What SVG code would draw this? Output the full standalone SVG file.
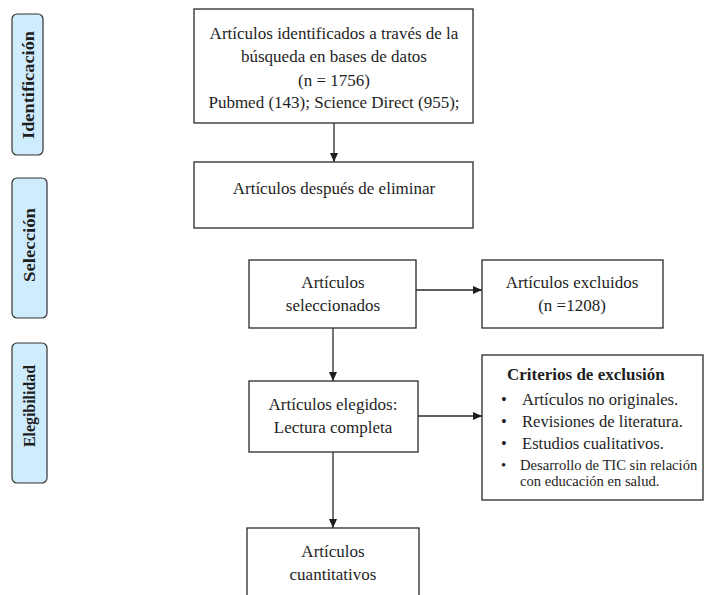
<svg xmlns="http://www.w3.org/2000/svg" width="704" height="595" viewBox="0 0 704 595">
<style>
text{font-family:"Liberation Serif","Times New Roman",serif;fill:#1e1e1e}
.box{fill:#fff;stroke:#2a2a2a;stroke-width:1.3}
.side{fill:#cfecfc;stroke:#333;stroke-width:1.2}
.st{font-weight:bold;font-size:17px;text-anchor:middle}
.t{font-size:17px;text-anchor:middle}
.b{font-size:16.6px}
.s{font-size:14.6px}
.ln{stroke:#2a2a2a;stroke-width:1.3;fill:none}
</style>
<defs>
<marker id="ah" markerWidth="10" markerHeight="10" refX="9" refY="5" orient="auto" markerUnits="userSpaceOnUse">
<path d="M0,1 L9,5 L0,9 Z" fill="#1e1e1e"/>
</marker>
</defs>
<rect width="704" height="595" fill="#fff"/>
<g id="side-identificacion"><rect class="side" x="12" y="14" width="31" height="141" rx="5"/><text class="st" transform="translate(34,85) rotate(-90)" textLength="108" lengthAdjust="spacingAndGlyphs">Identificación</text></g>
<g id="side-seleccion"><rect class="side" x="12" y="178" width="35" height="140" rx="5"/><text class="st" transform="translate(35,245) rotate(-90)" textLength="74" lengthAdjust="spacingAndGlyphs">Selección</text></g>
<g id="side-elegibilidad"><rect class="side" x="12" y="343" width="35" height="140" rx="5"/><text class="st" transform="translate(35,406) rotate(-90)" textLength="82" lengthAdjust="spacingAndGlyphs">Elegibilidad</text></g>

<g id="connectors">
<line class="ln" x1="334" y1="123" x2="334" y2="162" marker-end="url(#ah)"/>
<line class="ln" x1="416" y1="290" x2="482" y2="290" marker-end="url(#ah)"/>
<line class="ln" x1="333" y1="328" x2="333" y2="381" marker-end="url(#ah)"/>
<line class="ln" x1="418" y1="416" x2="482" y2="416" marker-end="url(#ah)"/>
<line class="ln" x1="333" y1="452" x2="333" y2="528" marker-end="url(#ah)"/>
</g>

<g id="n1"><rect class="box" x="194" y="9" width="279" height="114"/>
<text class="t" x="334" y="39">Artículos identificados a través de la</text>
<text class="t" x="334" y="62">búsqueda en bases de datos</text>
<text class="t" x="334" y="86">(n = 1756)</text>
<text class="t" x="334" y="108">Pubmed (143); Science Direct (955);</text></g>
<g id="n2"><rect class="box" x="194" y="162" width="279" height="66"/>
<text class="t" x="334" y="194">Artículos después de eliminar</text></g>
<g id="n3"><rect class="box" x="249" y="260" width="167" height="68"/>
<text class="t" x="333" y="288">Artículos</text>
<text class="t" x="333" y="311">seleccionados</text></g>
<g id="n4"><rect class="box" x="482" y="260" width="181" height="68"/>
<text class="t" x="572" y="288">Artículos excluidos</text>
<text class="t" x="572" y="311">(n =1208)</text></g>
<g id="n5"><rect class="box" x="249" y="381" width="169" height="71"/>
<text class="t" x="333" y="410">Artículos elegidos:</text>
<text class="t" x="333" y="433">Lectura completa</text></g>
<g id="n6"><rect class="box" x="482" y="355" width="221" height="145"/>
<text x="507" y="380" style="font-size:17px;font-weight:bold">Criterios de exclusión</text>
<text x="501" y="405" class="b">•</text><text x="522" y="405" class="b">Artículos no originales.</text>
<text x="501" y="427" class="b">•</text><text x="522" y="427" class="b">Revisiones de literatura.</text>
<text x="501" y="449" class="b">•</text><text x="522" y="449" class="b">Estudios cualitativos.</text>
<text x="501" y="470" class="s">•</text><text x="520" y="470" class="s">Desarrollo de TIC sin relación</text>
<text x="520" y="486" class="s">con educación en salud.</text></g>
<g id="n7"><rect class="box" x="247" y="528" width="172" height="80"/>
<text class="t" x="333" y="557">Artículos</text>
<text class="t" x="333" y="580">cuantitativos</text></g>
</svg>
